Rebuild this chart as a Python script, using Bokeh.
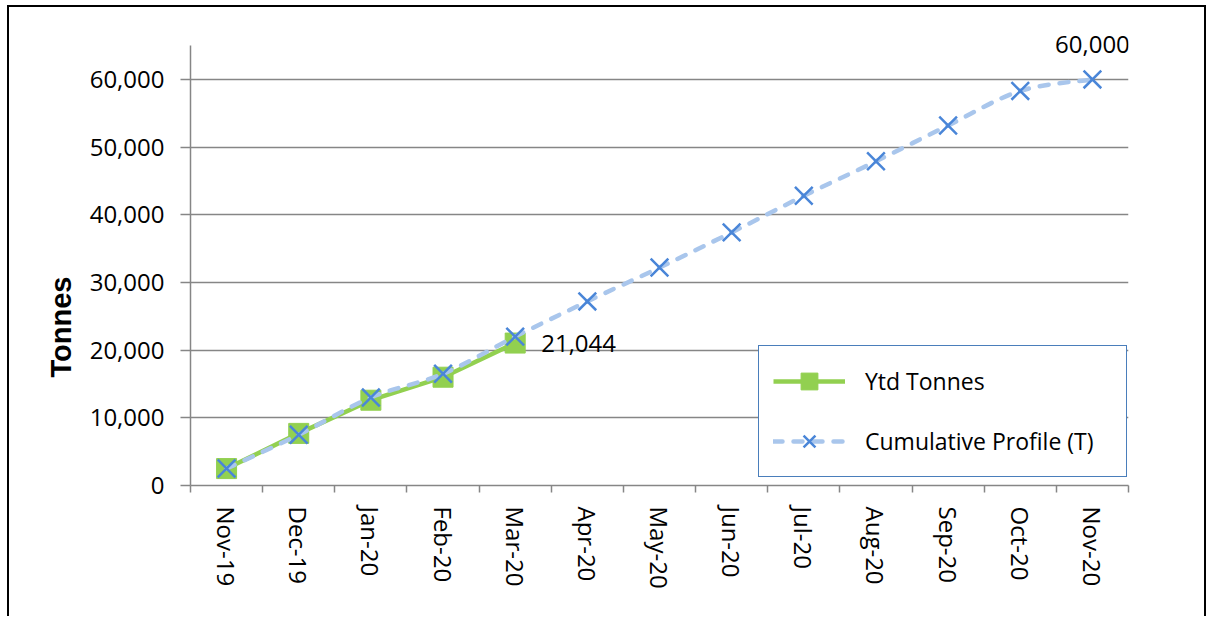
import numpy as np
from bokeh.plotting import figure
from bokeh.models import Range1d, FixedTicker, NumeralTickFormatter, Legend, LegendItem, Label, Title
from bokeh.embed import file_html
from bokeh.resources import INLINE

months = ["Nov-19", "Dec-19", "Jan-20", "Feb-20", "Mar-20", "Apr-20", "May-20",
          "Jun-20", "Jul-20", "Aug-20", "Sep-20", "Oct-20", "Nov-20"]
ytd_tonnes = [2500, 7700, 12600, 16000, 21044]
cumulative_profile = [2500, 7500, 13000, 16500, 22000, 27200, 32200,
                      37400, 42800, 47900, 53200, 58300, 60000]
y_ticks = [0, 10000, 20000, 30000, 40000, 50000, 60000]
y_axis_max = 65000

GREEN = "#92D050"
CROSS = "#4A86D8"
DASH = "#A9C6EC"
GRID = "#868686"
FONT = "Open Sans"

x_all = np.arange(len(months)) + 0.5
x_ytd = x_all[:len(ytd_tonnes)]

p = figure(width=1199, height=611, x_range=Range1d(0, len(months)), y_range=Range1d(0, 69000),
           output_backend="svg", toolbar_location=None,
           min_border_left=181, min_border_right=80, min_border_top=11, min_border_bottom=133)
p.outline_line_color = None
p.background_fill_color = "white"
p.border_fill_color = "white"
p.styles = {"margin-left": "7px", "margin-top": "5px",
            "border-left": "2px solid black", "border-top": "2px solid black",
            "border-right": "2px solid black"}

p.xgrid.visible = False
p.ygrid.ticker = FixedTicker(ticks=y_ticks)
p.ygrid.grid_line_color = GRID
p.ygrid.grid_line_width = 1.5

yax = p.yaxis[0]
yax.bounds = (0, y_axis_max)
yax.ticker = FixedTicker(ticks=y_ticks)
yax.formatter = NumeralTickFormatter(format="0,0")
yax.axis_line_color = GRID
yax.axis_line_width = 1.5
yax.major_tick_line_color = GRID
yax.major_tick_line_width = 1.5
yax.major_tick_out = 10
yax.major_tick_in = 0
yax.minor_tick_line_color = None
yax.major_label_text_font = FONT
yax.major_label_text_font_size = "24px"
yax.major_label_text_color = "black"
yax.major_label_standoff = 16

ytitle = Title(text="Tonnes", align="left", offset=108, text_font="Liberation Sans",
               text_font_style="bold", text_font_size="29px", text_color="black", standoff=20)
p.add_layout(ytitle, "left")

xax = p.xaxis[0]
xax.ticker = FixedTicker(ticks=[float(v) for v in x_all], minor_ticks=list(range(len(months) + 1)))
xax.major_label_overrides = {float(v): m for v, m in zip(x_all, months)}
xax.major_label_orientation = "vertical"
xax.major_label_text_font = FONT
xax.major_label_text_font_size = "24px"
xax.major_label_text_color = "black"
xax.major_label_standoff = 14
xax.axis_line_color = GRID
xax.axis_line_width = 1.5
xax.major_tick_out = 0
xax.major_tick_in = 0
xax.minor_tick_out = 7
xax.minor_tick_in = 0
xax.minor_tick_line_color = GRID
xax.minor_tick_line_width = 1.5

# Ytd series
r_ytd_line = p.line(x_ytd, ytd_tonnes, line_color=GREEN, line_width=4.5)
r_ytd_sq = p.scatter(x_ytd, ytd_tonnes, marker="square", size=20, fill_color=GREEN, line_color=GREEN)

# Cumulative profile, smoothed (Catmull-Rom style bezier segments)
n = len(cumulative_profile)
xs, ys = list(x_all), cumulative_profile
bx0, by0, bx1, by1, c0x, c0y, c1x, c1y = ([] for _ in range(8))
for i in range(n - 1):
    a, b, c, d = max(i - 1, 0), i, i + 1, min(i + 2, n - 1)
    bx0.append(xs[b]); by0.append(ys[b]); bx1.append(xs[c]); by1.append(ys[c])
    c0x.append(xs[b] + (xs[c] - xs[a]) / 6); c0y.append(ys[b] + (ys[c] - ys[a]) / 6)
    c1x.append(xs[c] - (xs[d] - xs[b]) / 6); c1y.append(ys[c] - (ys[d] - ys[b]) / 6)
p.bezier(x0=bx0, y0=by0, x1=bx1, y1=by1, cx0=c0x, cy0=c0y, cx1=c1x, cy1=c1y,
         line_color=DASH, line_width=4.5, line_dash="9 11", line_cap="round")
r_cum_leg = p.line(x=[np.nan], y=[np.nan], line_color=DASH, line_width=4.5, line_dash="9 11",
                   line_cap="round")
r_cum_x = p.scatter(x_all, cumulative_profile, marker="x", size=25, line_color=CROSS, line_width=2.5)

# Data labels
p.add_layout(Label(x=x_ytd[-1], y=ytd_tonnes[-1], text=f"{ytd_tonnes[-1]:,}", x_offset=26,
                   text_baseline="middle", text_align="left", text_font=FONT,
                   text_font_size="24px", text_color="black"))
p.add_layout(Label(x=x_all[-1], y=cumulative_profile[-1], text=f"{cumulative_profile[-1]:,}",
                   y_offset=35, text_baseline="middle", text_align="center", text_font=FONT,
                   text_font_size="24px", text_color="black"))

legend = Legend(items=[LegendItem(label="Ytd Tonnes", renderers=[r_ytd_line, r_ytd_sq]),
                       LegendItem(label="Cumulative Profile (T)", renderers=[r_cum_leg, r_cum_x])],
                location=(568, 8))
legend.label_text_font = FONT
legend.label_text_font_size = "23px"
legend.label_text_color = "black"
legend.glyph_width = 72
legend.glyph_height = 42
legend.label_height = 42
legend.label_width = 247
legend.label_standoff = 20
legend.spacing = 18
legend.padding = 14
legend.margin = 0
legend.border_line_color = "#4A7EBB"
legend.border_line_width = 1.5
legend.border_line_alpha = 1
legend.background_fill_color = "white"
legend.background_fill_alpha = 1
p.add_layout(legend)

open("out.html", "w").write(file_html(p, INLINE))
